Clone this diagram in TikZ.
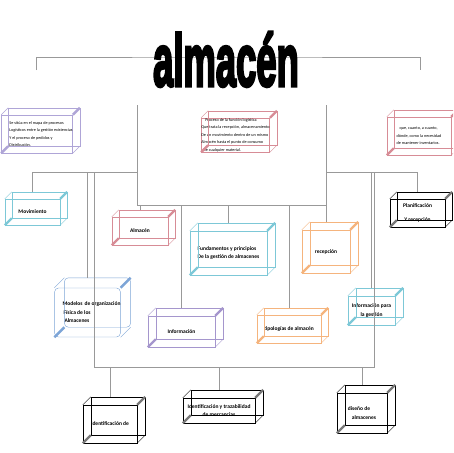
\documentclass[tikz,border=0pt]{standalone}
\usepackage{fontspec}
\setmainfont{Carlito}
\newfontfamily\titulofont[FakeBold=4.5]{Liberation Sans}
\definecolor{lila}{RGB}{175,165,215}
\definecolor{rosa}{RGB}{215,140,150}
\definecolor{cian}{RGB}{125,200,215}
\definecolor{naranja}{RGB}{245,180,125}
\definecolor{morado}{RGB}{165,150,205}
\definecolor{azul}{RGB}{125,165,215}
\definecolor{gris}{RGB}{120,120,120}

\begin{document}
\begin{tikzpicture}[x=1pt,y=-1pt]
    \tikzstyle{caja}=[draw, inner sep=0pt, align=center, font=\bfseries\fontsize{5.5}{8.5}\selectfont]
    \tikzstyle{nota}=[caja, align=left, font=\fontsize{4.2}{7.5}\selectfont]
    \tikzstyle{linea}=[draw=gray!80, line width=.6pt]
    \tikzstyle{recto}=[sharp corners]
    \tikzstyle{redondo}=[rounded corners=4pt]

    \path[fill=white, use as bounding box] (0,0) rectangle (453,453);
    \clip (0,0) rectangle (453,453);

    % notes under the title
    \node[nota, draw=lila, minimum width=66pt, minimum height=38pt] (notaL) at (37,134)
        {\hspace*{8pt}Se sitúa en el mapa de procesos\\\hspace*{8pt}Logísticos entre la gestión existencias\\\hspace*{8pt}Y el proceso de pedidos y\\\hspace*{8pt}Distribución.};
    \node[nota, draw=rosa, minimum width=65pt, minimum height=34pt] (notaC) at (235.5,135)
        {\hspace*{4pt}Proceso de la función logística\\Que trata la recepción, almacenamiento\\De un movimiento dentro de un mismo\\Almacén hasta el punto de consumo\\\hspace*{2pt}De cualquier material.};
    \node[nota, draw=rosa, minimum width=64pt, minimum height=38pt] (notaR) at (419,136)
        {\hspace*{3pt}que, cuanto, a cuanto,\\dónde, como la necesidad\\de mantener inventarios.};

    % boxes
    \node[caja, draw=cian, minimum width=55pt, minimum height=26pt] (mov) at (32.5,212) {Movimiento};
    \node[caja, draw=rosa, minimum width=56pt, minimum height=28pt] (alm) at (140,231) {Almacén};
    \node[caja, draw=cian, minimum width=77pt, minimum height=44pt, align=left] (fun) at (228.5,253)
        {Fundamentos y principios\\De la gestión de almacenes};
    \node[caja, draw=naranja, minimum width=48pt, minimum height=43pt] (rec) at (326,251.5) {recepción};
    \node[caja, draw=black, minimum width=55pt, minimum height=28pt] (pla) at (417.5,213)
        {Planificación\\[6pt]Y recepción};
    \node[caja, draw=azul, redondo, minimum width=65pt, minimum height=49pt, align=left] (mod) at (87.5,312.5)
        {\hspace*{8pt}Modelos\, de organización\\\hspace*{9pt}Física de los\\\hspace*{10pt}Almacenes};
    \node[caja, draw=morado, minimum width=67pt, minimum height=31pt] (inf) at (181.5,331.5) {Información};
    \node[caja, draw=naranja, minimum width=64pt, minimum height=28pt] (tip) at (289,329) {tipologías de almacén};
    \node[caja, draw=cian, minimum width=47pt, minimum height=29pt] (ing) at (371.5,310.5) {Información para\\la gestión};
    \node[caja, draw=black, minimum width=54pt, minimum height=38pt] (ide) at (110,424) {Identificación de};
    \node[caja, draw=black, minimum width=72pt, minimum height=25pt] (itr) at (219,410.5)
        {Identificación y trazabilidad\\de mercancias};
    \node[caja, draw=black, minimum width=50pt, minimum height=40pt, align=left] (dis) at (362,413)
        {diseño de\\\hspace*{4pt}almacenes};

    % back faces and corner edges
    \foreach \n/\c/\b/\d/\o in {notaL/lila/lila/7/recto, notaC/rosa/rosa/7/recto,
        notaR/rosa/rosa/7/recto, mov/cian/cian/7/recto, alm/rosa/rosa/7/recto,
        fun/cian/cian/8/recto, rec/naranja/naranja/8/recto, pla/black/gris/7/recto,
        mod/azul/azul/10/redondo, inf/morado/morado/8/recto, tip/naranja/naranja/7/recto,
        ing/cian/cian/8/recto, ide/black/gris/8/recto, itr/black/gris/8/recto,
        dis/black/gris/8/recto}
    {
        \draw[\c, \o] ([shift={(\d,-\d)}]\n.south west) rectangle ([shift={(\d,-\d)}]\n.north east);
        \draw[\c] (\n.north west) -- ++(\d,-\d);
        \draw[\c] (\n.south east) -- ++(\d,-\d);
        \draw[\b, line width=2.4pt] (\n.north east) -- ++(\d,-\d);
        \draw[\b, line width=2.4pt] (\n.south west) -- ++(\d,-\d);
        \coordinate (\n-t) at ([yshift=\d pt]\n.north);
    }

    % connectors
    \coordinate (tiL) at (36,70);
    \coordinate (tiR) at (420,70);
    \coordinate (tiM) at (226,57);
    \coordinate (a1) at (137,105);
    \coordinate (a2) at (326,105);
    \coordinate (jl) at (137,205);
    \coordinate (jr) at (326,205);
    \coordinate (ml) at (137,172);
    \coordinate (mr) at (326,172);
    \coordinate (bl) at (94,367);
    \coordinate (br) at (374,367);

    \draw[linea] (tiL) |- (tiM) -| (tiR);
    \draw[linea] (a1) -- (jl) -- (jr) -- (a2);
    \draw[linea] (mov-t) |- (ml);
    \draw[linea] (pla-t) |- (mr);
    \draw[linea] (mod-t) -- (mod-t |- ml);
    \draw[linea] (ing-t) -- (ing-t |- mr);
    \draw[linea] (bl |- ml) -- (bl) -- (br) -- (br |- mr);
    \foreach \n in {alm,fun,rec,inf,tip}
        \draw[linea] (\n-t) -- (\n-t |- jl);
    \foreach \n in {ide,itr,dis}
        \draw[linea] (\n-t) -- (\n-t |- bl);

    % title
    \node[anchor=base, inner sep=0pt] (titulo) at (226,86)
        {\scalebox{.52}[1.05]{\titulofont\bfseries\fontsize{70}{70}\selectfont almacén}};
\end{tikzpicture}
\end{document}
